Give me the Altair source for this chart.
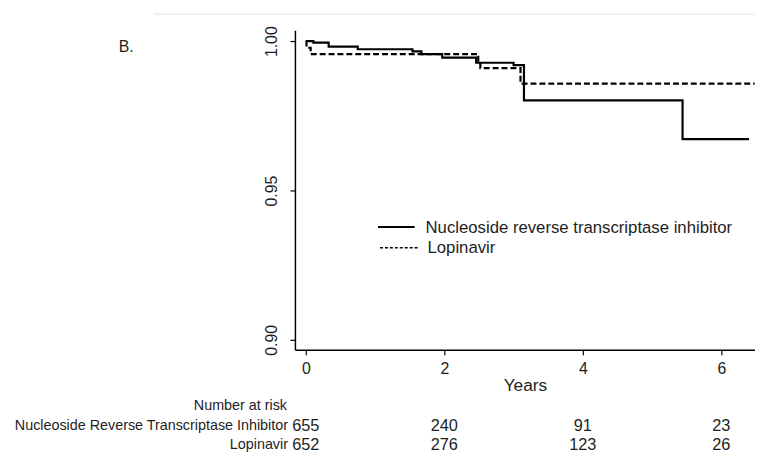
import altair as alt
import pandas as pd

# ---- data ----
nrti_name = "Nucleoside reverse transcriptase inhibitor"
lpv_name = "Lopinavir"
nrti_time = [0.0, 0.11, 0.33, 0.75, 1.54, 1.67, 1.97, 2.46, 3.00, 3.15, 5.44, 6.40]
nrti_surv = [1.000, 0.9995, 0.9982, 0.9973, 0.9966, 0.9957, 0.9945, 0.9928, 0.9920, 0.9802, 0.9672, 0.9672]
lpv_time = [0.0, 0.01, 0.07, 2.49, 2.52, 3.10, 6.48]
lpv_surv = [1.000, 0.9978, 0.9957, 0.9930, 0.9910, 0.9858, 0.9858]

risk_times = [0, 2, 4, 6]
risk_nrti = [655, 240, 91, 23]
risk_lpv = [652, 276, 123, 26]
risk_title = "Number at risk"
risk_label_nrti = "Nucleoside Reverse Transcriptase Inhibitor"
risk_label_lpv = "Lopinavir"
panel_label = "B."

x_ticks = [0, 2, 4, 6]
y_ticks = [0.90, 0.95, 1.00]

FONT = "Liberation Sans"
INK = "#1e1e1e"

curves = pd.DataFrame(
    {"time": nrti_time + lpv_time,
     "surv": nrti_surv + lpv_surv,
     "group": [nrti_name] * len(nrti_time) + [lpv_name] * len(lpv_time)}
)
risk = pd.DataFrame({"time": risk_times, "nrti": risk_nrti, "lpv": risk_lpv})
one = pd.DataFrame({"k": [0]})

x_scale = alt.Scale(domain=[-0.157, 6.486], nice=False, zero=False)
y_scale = alt.Scale(domain=[0.8967, 1.0037], nice=False, zero=False)

lines = alt.Chart(curves).mark_line(interpolate="step-after", color="black", strokeWidth=2.2).encode(
    x=alt.X("time:Q", scale=x_scale,
            axis=alt.Axis(values=x_ticks, format="d", title="Years", labelFontSize=16,
                          titleFontSize=17.5, titleFontWeight="normal", labelPadding=6,
                          titlePadding=0, tickSize=5, grid=False)),
    y=alt.Y("surv:Q", scale=y_scale, title=None,
            axis=alt.Axis(values=y_ticks, format=".2f", labelAngle=270, labelAlign="center",
                          labelBaseline="bottom", labelPadding=11, labelFontSize=16,
                          tickSize=5, grid=False)),
    strokeDash=alt.StrokeDash(
        "group:N",
        scale=alt.Scale(domain=[nrti_name, lpv_name], range=[[1, 0], [6, 3]]),
        legend=None,
    ),
)

# legend drawn by hand (one sample line + label per series)
leg_solid = alt.Chart(one).mark_rule(color="black", strokeWidth=2).encode(
    x=alt.value(84), x2=alt.value(121), y=alt.value(199))
leg_dash = alt.Chart(one).mark_rule(color="black", strokeWidth=1.6, strokeDash=[3, 2]).encode(
    x=alt.value(86), x2=alt.value(124), y=alt.value(220))
leg_t1 = alt.Chart(one).mark_text(text=nrti_name, fontSize=16.9, font=FONT, color=INK,
                                  align="left", baseline="middle").encode(
    x=alt.value(132), y=alt.value(200))
leg_t2 = alt.Chart(one).mark_text(text=lpv_name, fontSize=16.9, font=FONT, color=INK,
                                  align="left", baseline="middle").encode(
    x=alt.value(134), y=alt.value(220))

base_risk = alt.Chart(risk)
row1 = base_risk.mark_text(fontSize=16.5, font=FONT, color=INK, align="center", baseline="middle").encode(
    x=alt.X("time:Q", scale=x_scale), y=alt.value(400), text="nrti:N")
row2 = base_risk.mark_text(fontSize=16.5, font=FONT, color=INK, align="center", baseline="middle").encode(
    x=alt.X("time:Q", scale=x_scale), y=alt.value(419), text="lpv:N")

lab_title = alt.Chart(one).mark_text(text=risk_title, fontSize=14.5, font=FONT, color=INK,
                                     align="right", baseline="middle").encode(
    x=alt.value(-8), y=alt.value(380))
lab_nrti = alt.Chart(one).mark_text(text=risk_label_nrti, fontSize=14.5, font=FONT, color=INK,
                                    align="right", baseline="middle").encode(
    x=alt.value(-7), y=alt.value(400))
lab_lpv = alt.Chart(one).mark_text(text=risk_label_lpv, fontSize=14.5, font=FONT, color=INK,
                                   align="right", baseline="middle").encode(
    x=alt.value(-7), y=alt.value(419))
lab_panel = alt.Chart(one).mark_text(text=panel_label, fontSize=16, font=FONT, color=INK,
                                     align="left", baseline="middle").encode(
    x=alt.value(-178), y=alt.value(17))
top_rule = alt.Chart(one).mark_rule(color="#efefef", strokeWidth=2).encode(
    x=alt.value(-143), x2=alt.value(465), y=alt.value(-16))

chart = alt.layer(
    top_rule, lines, leg_solid, leg_dash, leg_t1, leg_t2,
    row1, row2, lab_title, lab_nrti, lab_lpv, lab_panel
).properties(
    width=465, height=323,
    autosize=alt.AutoSizeParams(type="none"),
    padding={"left": 290, "top": 20, "right": 0, "bottom": 105},
).configure_view(stroke="transparent").configure_axis(
    domainColor="black", domainWidth=1.5, tickColor="black", tickWidth=1.2,
    labelColor=INK, titleColor=INK, labelFont=FONT, titleFont=FONT,
)

chart.save("out.html", embed_options={"renderer": "svg", "actions": False})
